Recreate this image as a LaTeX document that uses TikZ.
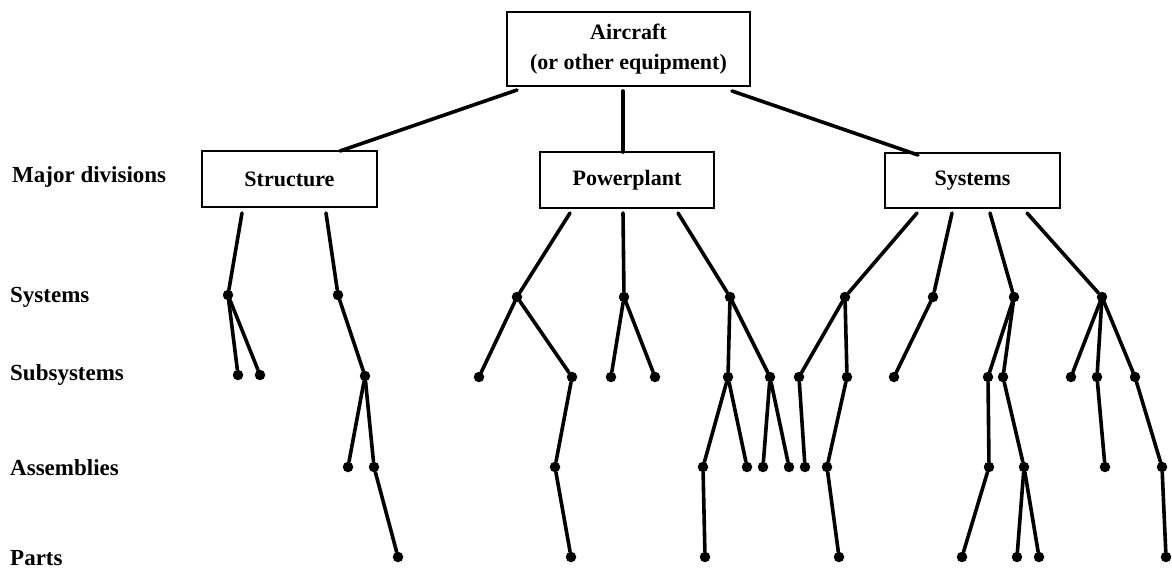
\documentclass[tikz,border=0pt]{standalone}
\usepackage{fontspec}
\setmainfont{Liberation Serif}
\begin{document}
\begin{tikzpicture}[x=1pt,y=-1pt,
  box/.style={draw, line width=1.8pt, inner sep=0pt, align=center,
    font=\bfseries\fontsize{22}{30}\selectfont},
  lvl/.style={anchor=west, inner sep=0pt, font=\bfseries\fontsize{23}{26}\selectfont},
  dot/.style={circle, fill=black, inner sep=0pt, minimum size=10.5pt},
  link/.style={line width=3.6pt, line cap=round}]
\useasboundingbox (0,0) rectangle (1172,569);

% boxes
\node[box, minimum width=243pt, minimum height=74pt] (A) at (628.5,49) {Aircraft\\(or other equipment)};
\node[box, minimum width=175pt, minimum height=56pt] (S) at (289.5,179) {Structure};
\node[box, minimum width=174pt, minimum height=56pt] (P) at (627,180) {Powerplant};
\node[box, minimum width=175pt, minimum height=55pt] (Y) at (972.5,180.5) {Systems};

% level labels
\node[lvl] (L0) at (12,177) {Major divisions};
\node[lvl] (L1) at (10,297) {Systems};
\node[lvl] (L2) at (10,375) {Subsystems};
\node[lvl] (L3) at (10,468) {Assemblies};
\node[lvl] (L4) at (10,558) {Parts};

% connector end points at boxes
\coordinate (aS) at (517,90);  \coordinate (sT) at (340,151);
\coordinate (aP) at (623,91);  \coordinate (pT) at (623,152);
\coordinate (aY) at (732,91);  \coordinate (yT) at (918,155);
\coordinate (s1) at (242,213); \coordinate (s2) at (326,213);
\coordinate (p1) at (570,213); \coordinate (p2) at (623,213); \coordinate (p3) at (678,213);
\coordinate (y1) at (917,213); \coordinate (y2) at (952,213); \coordinate (y3) at (990,213); \coordinate (y4) at (1027,213);

% dots
\foreach \n/\x/\y in {
  a1/228/295, a2/338/295, a3/517/297, a4/624/297, a5/730/297,
  a6/845/297, a7/933/297, a8/1014/297, a9/1102/297,
  b1/238/375, b2/260/375, b3/365/376, b4/479/377, b5/572/377,
  b6/611/377, b7/655/377, b8/728/377, b9/770/377,
  b10/799/377, b11/847/377, b12/894/377, b13/988/377, b14/1003/377,
  b15/1071/377, b16/1097/377, b17/1135/377,
  c1/348/467, c2/374/467, c3/555/467, c4/703/467, c5/747/467,
  c6/763/467, c7/789/467, c8/805/467, c9/827/467, c10/989/467,
  c11/1024/467, c12/1105/467, c13/1162/467,
  d1/398/557, d2/571/557, d3/705/557, d4/839/557, d5/962/557,
  d6/1017/557, d7/1039/557, d8/1166/557}
  \node[dot] (\n) at (\x,\y) {};

% connectors
\foreach \u/\v in {aS/sT, aP/pT, aY/yT,
  s1/a1, s2/a2, p1/a3, p2/a4, p3/a5, y1/a6, y2/a7, y3/a8, y4/a9,
  a1/b1, a1/b2, a2/b3, b3/c1, b3/c2, c2/d1,
  a3/b4, a3/b5, b5/c3, c3/d2,
  a4/b6, a4/b7,
  a5/b8, a5/b9, b8/c4, b8/c5, c4/d3, b9/c6, b9/c7,
  a6/b10, a6/b11, b10/c8, b11/c9, c9/d4,
  a7/b12,
  a8/b13, a8/b14, b13/c10, c10/d5, b14/c11, c11/d6, c11/d7,
  a9/b15, a9/b16, a9/b17, b16/c12, b17/c13, c13/d8}
  \draw[link] (\u) -- (\v);
\end{tikzpicture}
\end{document}
